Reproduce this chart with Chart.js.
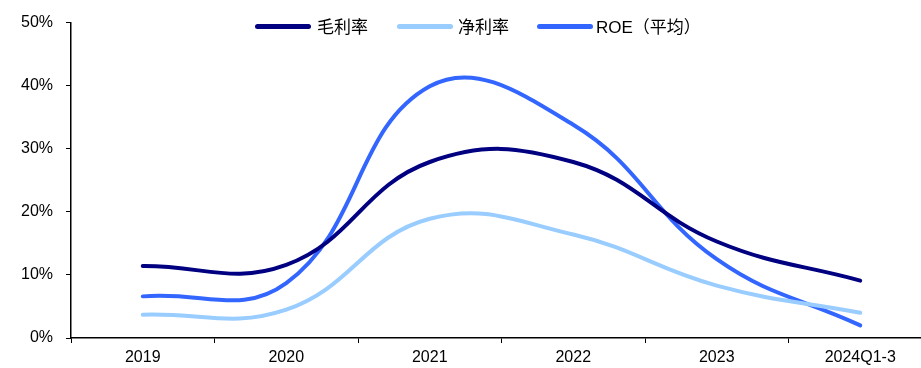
<!DOCTYPE html>
<html>
<head>
<meta charset="utf-8">
<script src="https://cdn.jsdelivr.net/npm/chart.js@4"></script>
<style>
  html, body { margin: 0; padding: 0; background: #fff; overflow: hidden; }
  #cadre { position: relative; width: 921px; height: 368px; overflow: hidden; }
  #graphique { position: absolute; left: 0; top: 0; }
  .legende { position: absolute; top: 15px; height: 22px; font: 17px "Noto Sans CJK SC", sans-serif; color: #000; line-height: 22px; white-space: nowrap; }
  .legende i { position: absolute; top: 9px; height: 5px; border-radius: 3px; }
  .legende span { position: absolute; top: 0; }
  .latin { font-family: "Liberation Sans", Arial, sans-serif; font-size: 17px; }
</style>
</head>
<body>
<div id="cadre">
  <canvas id="graphique" width="940" height="368"></canvas>
  <div class="legende">
    <i style="left:255px;width:56px;background:#000080"></i><span style="left:317px">毛利率</span>
    <i style="left:397px;width:56px;background:#99ccff"></i><span style="left:458px">净利率</span>
    <i style="left:537px;width:56px;background:#3366ff"></i><span style="left:596px"><span class="latin" style="position:static">ROE</span>（平均）</span>
  </div>
</div>
<script>
const annees = ['2019', '2020', '2021', '2022', '2023', '2024Q1-3'];
const margeBrute = [11.4, 11.6, 27.9, 27.9, 15.3, 9.1];
const margeNette = [3.7, 4.5, 18.9, 16.4, 8.3, 4.0];
const roeMoyen = [6.6, 8.7, 39.9, 33.8, 12.5, 2.0];
const graduations = [0, 10, 20, 30, 40, 50];

function serie(label, valeurs, couleur) {
  return {
    label,
    data: valeurs,
    borderColor: couleur,
    backgroundColor: couleur,
    borderWidth: 4,
    borderCapStyle: 'round',
    tension: 0.42,
    pointRadius: 0,
    fill: false,
  };
}

new Chart(document.getElementById('graphique'), {
  type: 'line',
  data: {
    labels: annees,
    datasets: [
      serie('毛利率', margeBrute, '#000080'),
      serie('净利率', margeNette, '#99ccff'),
      serie('ROE（平均）', roeMoyen, '#3366ff'),
    ],
  },
  options: {
    responsive: false,
    animation: false,
    layout: { padding: { top: 19, right: 8, left: 0, bottom: 0 } },
    plugins: { legend: { display: false }, tooltip: { enabled: false } },
    scales: {
      x: {
        offset: true,
        grid: { offset: true, drawOnChartArea: false, tickLength: 5, tickColor: '#000' },
        border: { color: '#000', width: 1.5 },
        ticks: {
          color: '#000',
          padding: 5,
          maxRotation: 0,
          font: { family: '"Liberation Sans", Arial, sans-serif', size: 16 },
        },
        afterFit: (axe) => { axe.height = 30; },
      },
      y: {
        min: 0,
        max: 50,
        afterBuildTicks: (axe) => { axe.ticks = graduations.map((v) => ({ value: v })); },
        grid: { drawOnChartArea: false, tickLength: 5, tickColor: '#000' },
        border: { color: '#000', width: 1.5 },
        ticks: {
          color: '#000',
          padding: 13,
          callback: (v) => v + '%',
          font: { family: '"Liberation Sans", Arial, sans-serif', size: 16 },
        },
        afterFit: (axe) => { axe.width = 71; },
      },
    },
  },
});
</script>
</body>
</html>
